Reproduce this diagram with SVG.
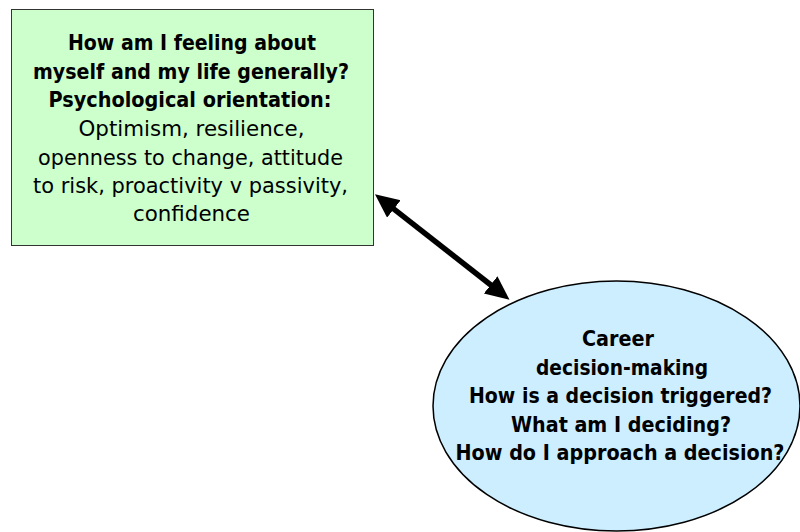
<svg xmlns="http://www.w3.org/2000/svg" width="800" height="532" viewBox="0 0 800 532">
  <style>
    .t { font-family: "DejaVu Sans", "Liberation Sans", sans-serif; font-size: 21px; fill: #000; text-anchor: middle; }
    .b { font-weight: bold; }
  </style>
  <defs>
    <marker id="ah" markerUnits="userSpaceOnUse" markerWidth="26" markerHeight="24" refX="10" refY="11" orient="auto-start-reverse" viewBox="0 0 26 24">
      <path d="M0,0 L24,11 L0,22 z" fill="#000"/>
    </marker>
  </defs>
  <rect width="800" height="532" fill="#fff"/>
  <g id="node-psych">
    <rect x="11.5" y="9.5" width="362" height="236" fill="#ccffcc" stroke="#333" stroke-width="1"/>
    <text class="t b" x="192" y="50" textLength="248" lengthAdjust="spacingAndGlyphs">How am I feeling about</text>
    <text class="t b" x="191" y="78.5" textLength="316" lengthAdjust="spacingAndGlyphs">myself and my life generally?</text>
    <text class="t b" x="190" y="107" textLength="283" lengthAdjust="spacingAndGlyphs">Psychological orientation:</text>
    <text class="t" x="191.5" y="136" textLength="226" lengthAdjust="spacingAndGlyphs">Optimism, resilience,</text>
    <text class="t" x="190.5" y="164.5" textLength="305" lengthAdjust="spacingAndGlyphs">openness to change, attitude</text>
    <text class="t" x="190.5" y="193" textLength="315" lengthAdjust="spacingAndGlyphs">to risk, proactivity v passivity,</text>
    <text class="t" x="191.5" y="221" textLength="117" lengthAdjust="spacingAndGlyphs">confidence</text>
  </g>
  <g id="node-career">
    <ellipse cx="616.5" cy="406" rx="183.5" ry="125" fill="#cceeff" stroke="#000" stroke-width="1.5"/>
    <text class="t b" x="618" y="346" textLength="72" lengthAdjust="spacingAndGlyphs">Career</text>
    <text class="t b" x="622" y="374.5" textLength="172" lengthAdjust="spacingAndGlyphs">decision-making</text>
    <text class="t b" x="620.5" y="403" textLength="303" lengthAdjust="spacingAndGlyphs">How is a decision triggered?</text>
    <text class="t b" x="621" y="431.5" textLength="220" lengthAdjust="spacingAndGlyphs">What am I deciding?</text>
    <text class="t b" x="620" y="460" textLength="329" lengthAdjust="spacingAndGlyphs">How do I approach a decision?</text>
  </g>
  <g id="connectors">
    <line x1="386" y1="202.8" x2="498.5" y2="291" stroke="#000" stroke-width="5.5" marker-start="url(#ah)" marker-end="url(#ah)"/>
  </g>
</svg>
